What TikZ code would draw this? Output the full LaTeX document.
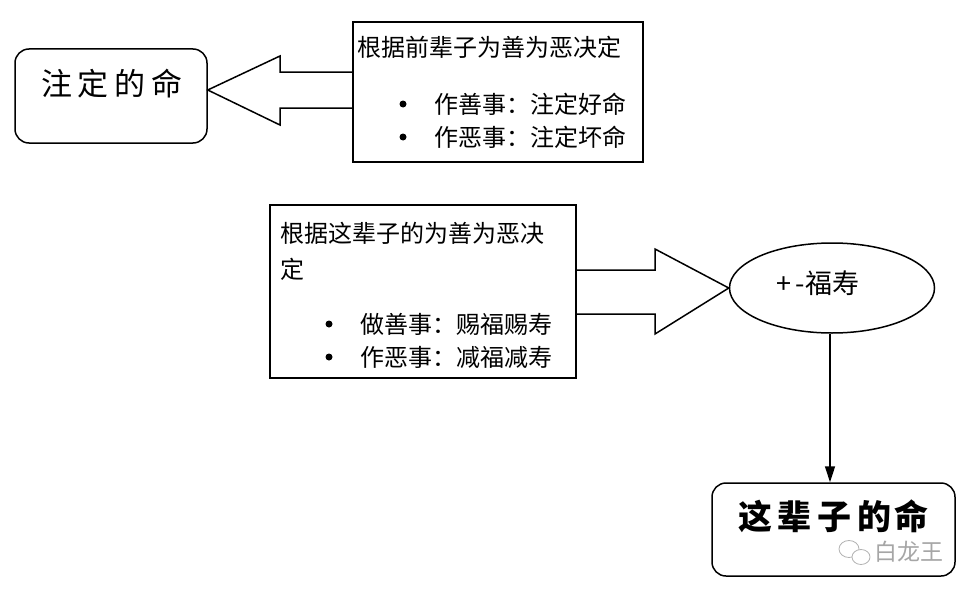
\documentclass[tikz,border=0pt]{standalone}
\usepackage{fontspec}
\setmainfont{Noto Sans CJK SC}
\newfontfamily\cjk{Noto Sans CJK SC}
\usetikzlibrary{arrows.meta,shapes.geometric}
\begin{document}
\begin{tikzpicture}[x=1pt,y=-1pt,
  line width=1.5pt,
  rbox/.style={draw,rounded corners=14pt,inner sep=0pt},
  tbox/.style={draw,inner sep=0pt},
  txt/.style={inner sep=0pt,anchor=west,font=\fontsize{24}{28}\selectfont},
  bul/.style={circle,fill=black,inner sep=0pt,minimum size=7pt}]
\useasboundingbox[fill=white] (0,0) rectangle (976,594);
% boxes
\node[rbox,minimum width=192pt,minimum height=94pt] (fate) at (111,96) {};
\node[inner sep=0pt,font=\fontsize{31}{34}\selectfont] (fatet) at (112,84) {注\hspace{6pt}定\hspace{6pt}的\hspace{6pt}命};
\node[tbox,minimum width=290pt,minimum height=140pt] (t1) at (498,92) {};
\node[txt] (t1a) at (357,47) {根据前辈子为善为恶决定};
\node[bul] (t1b1) at (403,104) {};
\node[txt] (t1b) at (434,104) {作善事：注定好命};
\node[bul] (t1c1) at (403,137) {};
\node[txt] (t1c) at (434,137) {作恶事：注定坏命};
\node[tbox,minimum width=306pt,minimum height=173pt] (t2) at (423,291.5) {};
\node[txt] (t2a) at (280,233) {根据这辈子的为善为恶决};
\node[txt] (t2b) at (280,269) {定};
\node[bul] (t2b1) at (329,324) {};
\node[txt] (t2c) at (360,324) {做善事：赐福赐寿};
\node[bul] (t2c1) at (329,357) {};
\node[txt] (t2d) at (360,357) {作恶事：减福减寿};
\node[draw,ellipse,minimum width=205pt,minimum height=90pt,inner sep=0pt] (fs) at (832,288) {};
\node[inner sep=0pt,font=\fontsize{27}{30}\selectfont] (fst) at (818,283) {+\hspace{4pt}-福寿};
\node[rbox,minimum width=243pt,minimum height=93pt] (life) at (833.5,529.5) {};
\node[inner sep=0pt,font=\fontsize{34}{38}\selectfont\bfseries] (lifet) at (833,516) {这\hspace{6pt}辈\hspace{6pt}子\hspace{6pt}的\hspace{2pt}命};
\node[inner sep=0pt,text=black!35,font=\fontsize{23}{26}\selectfont] (wm) at (909,552) {白龙王};
\draw[black!30,line width=0.8pt] (849,549) ellipse (10pt and 8.5pt);
\draw[black!30,line width=0.8pt,fill=white] (861,557) ellipse (9pt and 7.5pt);
% block arrows
\coordinate (a1a) at (353,72);
\coordinate (a1b) at (353,108);
\draw[line join=miter] (a1a) -- (280,72) -- (280,56) -- (fate.east |- 0,90) -- (280,125) -- (280,108) -- (a1b);
\draw[line join=miter] (t2.east |- 0,270) -- (655,270) -- (655,249) -- (fs.west) -- (655,334) -- (655,314) -- (t2.east |- 0,314);
% vertical arrow
\draw[-{Triangle[length=16pt,width=10pt]}] (fs.south -| 830,0) -- (life.north -| 830,0);
\end{tikzpicture}
\end{document}
